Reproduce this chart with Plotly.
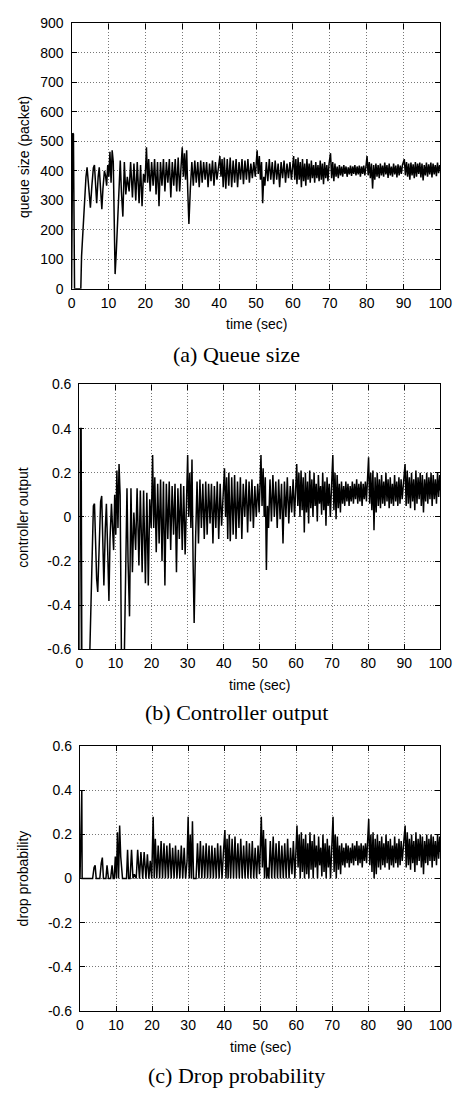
import plotly.graph_objects as go

# ---------------- data ----------------
time_sec = [
    0.0, 0.1, 0.3, 0.5, 0.6, 0.8, 1.6, 2.5, 2.7, 3.0, 3.5, 3.9,
    4.2, 4.5, 4.8, 5.1, 5.5, 5.9, 6.2, 6.5, 6.8, 7.2, 7.5, 7.9, 8.2, 8.5, 8.9, 9.2, 9.5, 9.8, 10.1, 10.4, 10.7, 11.0, 11.3,
    11.6, 11.8, 12.1, 12.5, 12.9, 13.2, 13.5, 13.9,
    14.3, 14.7, 15.1, 15.6, 16.0, 16.5, 16.9, 17.4, 17.8, 18.3, 18.7, 19.1, 19.5, 19.9,
    20.3, 20.6, 20.9, 21.3, 21.7, 22.1, 22.5, 22.9, 23.3, 23.7, 24.1, 24.5, 24.9, 25.3, 25.7, 26.1, 26.5, 26.9, 27.3, 27.7, 28.1, 28.5, 28.9, 29.3, 29.7,
    30.0, 30.3, 30.6, 30.9, 31.2, 31.5, 31.8, 32.2, 32.6, 33.0, 33.4, 33.8, 34.2, 34.6, 35.0, 35.4, 35.8, 36.2, 36.6, 37.0, 37.4, 37.8, 38.2, 38.6, 39.0, 39.4, 39.8,
    40.2, 40.5, 40.8, 41.1, 41.4, 41.8, 42.2, 42.6, 43.0, 43.4, 43.8, 44.2, 44.6, 45.0, 45.4, 45.8, 46.2, 46.6, 47.0, 47.4, 47.8, 48.2, 48.6, 49.0, 49.4, 49.8,
    50.3, 50.6, 50.9, 51.2, 51.5, 51.8, 52.1, 52.4, 52.8, 53.2, 53.6, 54.0, 54.4, 54.8, 55.2, 55.6, 56.0, 56.4, 56.8, 57.2, 57.6, 58.0, 58.4, 58.8, 59.2, 59.6,
    60.2, 60.5, 60.8, 61.1, 61.4, 61.7, 62.0, 62.3, 62.6, 62.9, 63.2, 63.5, 63.8, 64.1, 64.4, 64.7, 65.0, 65.3, 65.6, 65.9,
    66.2, 66.5, 66.8, 67.1, 67.4, 67.7, 68.0, 68.3, 68.6, 68.9, 69.2, 69.5, 69.8,
    70.2, 70.5, 70.8, 71.1, 71.4, 71.7, 72.0, 72.3, 72.6, 72.9, 73.2, 73.5, 73.8, 74.1, 74.4, 74.7, 75.0, 75.3, 75.6, 75.9,
    76.2, 76.5, 76.8, 77.1, 77.4, 77.7, 78.0, 78.3, 78.6, 78.9, 79.2, 79.5, 79.8,
    80.1, 80.4, 80.7, 81.0, 81.3, 81.6, 81.9, 82.2, 82.5, 82.8, 83.1, 83.4, 83.7, 84.0, 84.3, 84.6, 84.9, 85.2, 85.5, 85.8,
    86.1, 86.4, 86.7, 87.0, 87.3, 87.6, 87.9, 88.2, 88.5, 88.8, 89.1, 89.4, 89.7,
    90.2, 90.5, 90.8, 91.1, 91.4, 91.7, 92.0, 92.3, 92.6, 92.9, 93.2, 93.5, 93.8, 94.1, 94.4, 94.7, 95.0, 95.3, 95.6, 95.9,
    96.2, 96.5, 96.8, 97.1, 97.4, 97.7, 98.0, 98.3, 98.6, 98.9, 99.2, 99.5, 99.8, 100.0,
]

queue_size = [
    0, 515, 528, 525, 320, 0, 0, 0, 110, 190, 270, 380,
    412, 360, 300, 275, 350, 410, 420, 340, 290, 380, 412, 330, 270, 340, 400, 385, 350, 420, 380, 465, 360, 470, 430,
    200, 50, 120, 250, 380, 435, 330, 245,
    430, 320, 380, 330, 430, 310, 425, 300, 430, 290, 420, 280, 390, 360,
    480, 360, 440, 330, 430, 350, 440, 320, 430, 280, 430, 350, 440, 330, 430, 360, 440, 310, 430, 350, 440, 330, 445, 330, 420,
    480, 380, 460, 370, 470, 330, 220, 340, 430, 350, 435, 360, 430, 345, 435, 360, 430, 370, 430, 345, 425, 365, 435, 350, 430, 370, 420,
    450, 380, 440, 345, 445, 340, 440, 350, 445, 345, 435, 360, 440, 345, 430, 370, 440, 355, 435, 370, 440, 360, 425, 375, 430, 380,
    470, 390, 450, 370, 430, 290, 380, 350, 430, 365, 440, 370, 430, 355, 435, 370, 425, 345, 430, 375, 435, 360, 425, 375, 430, 370,
    450, 370, 440, 355, 445, 370, 430, 345, 440, 365, 425, 350, 440, 370, 425, 360, 435, 375, 420, 360,
    430, 375, 420, 365, 435, 370, 425, 355, 430, 375, 420, 365, 425,
    460, 375, 430, 365, 425, 380, 415, 375, 420, 385, 415, 380, 420, 390, 415, 380, 412, 388, 418, 383,
    415, 390, 420, 385, 415, 388, 418, 380, 415, 390, 418, 385, 415,
    450, 385, 430, 375, 425, 340, 420, 370, 425, 380, 420, 375, 425, 385, 418, 380, 428, 388, 420, 376,
    425, 385, 415, 380, 425, 388, 418, 378, 422, 385, 418, 390, 420,
    440, 385, 430, 380, 425, 370, 428, 385, 422, 375, 430, 380, 425, 390, 428, 378, 425, 368, 420, 385,
    428, 380, 422, 388, 428, 378, 425, 388, 420, 382, 428, 392, 420, 405,
]

controller_output = [
    -0.9, 0.1, 0.40, 0.40, -0.3, -1.2, -1.6, -1.2, -0.75, -0.55, -0.25, 0.05,
    0.06, -0.15, -0.28, -0.34, -0.1, 0.07, 0.095, -0.15, -0.31, -0.05, 0.06, -0.18, -0.38, -0.1, 0.06, -0.05, -0.15, 0.1, -0.08, 0.21, -0.05, 0.24, 0.1,
    -0.5, -0.9, -0.85, -0.6, -0.1, 0.13, -0.2, -0.45,
    0.13, -0.25, 0.02, -0.15, 0.13, -0.22, 0.12, -0.25, 0.12, -0.3, 0.11, -0.31, 0.08, -0.05,
    0.28, -0.05, 0.18, -0.16, 0.15, -0.12, 0.17, -0.2, 0.16, -0.31, 0.15, -0.1, 0.16, -0.15, 0.14, -0.08, 0.15, -0.25, 0.13, -0.1, 0.15, -0.15, 0.14, -0.17, 0.08,
    0.28, 0.0, 0.2, -0.05, 0.26, -0.2, -0.48, -0.1, 0.16, -0.12, 0.17, -0.05, 0.15, -0.1, 0.16, -0.08, 0.15, -0.03, 0.15, -0.12, 0.14, -0.05, 0.16, -0.1, 0.15, -0.04, 0.12,
    0.22, 0.0, 0.18, -0.1, 0.2, -0.11, 0.18, -0.08, 0.19, -0.1, 0.16, -0.05, 0.18, -0.1, 0.15, 0.0, 0.17, -0.07, 0.16, -0.02, 0.17, -0.05, 0.14, 0.0, 0.15, 0.02,
    0.28, 0.05, 0.22, 0.0, 0.18, -0.24, 0.05, -0.05, 0.17, -0.02, 0.19, 0.0, 0.16, -0.05, 0.17, -0.01, 0.15, -0.12, 0.16, 0.0, 0.18, -0.03, 0.14, 0.02, 0.17, 0.0,
    0.24, 0.05, 0.2, 0.0, 0.21, 0.03, 0.18, -0.07, 0.2, 0.02, 0.16, -0.03, 0.21, 0.04, 0.17, 0.0, 0.2, 0.05, 0.15, -0.02,
    0.19, 0.06, 0.14, 0.01, 0.2, 0.03, 0.16, -0.04, 0.18, 0.05, 0.15, 0.0, 0.14,
    0.28, 0.03, 0.2, -0.01, 0.19, 0.04, 0.15, 0.02, 0.16, 0.06, 0.14, 0.05, 0.16, 0.07, 0.15, 0.05, 0.14, 0.07, 0.16, 0.06,
    0.15, 0.08, 0.17, 0.06, 0.15, 0.07, 0.16, 0.05, 0.15, 0.08, 0.16, 0.07, 0.15,
    0.27, 0.06, 0.2, 0.03, 0.21, -0.06, 0.18, 0.02, 0.2, 0.05, 0.17, 0.04, 0.19, 0.06, 0.16, 0.05, 0.2, 0.07, 0.17, 0.04,
    0.18, 0.06, 0.15, 0.05, 0.19, 0.07, 0.16, 0.05, 0.18, 0.06, 0.17, 0.08, 0.16,
    0.24, 0.05, 0.21, 0.06, 0.18, 0.04, 0.2, 0.07, 0.17, 0.03, 0.21, 0.06, 0.18, 0.08, 0.2, 0.05, 0.19, 0.02, 0.17, 0.07,
    0.2, 0.06, 0.18, 0.08, 0.2, 0.05, 0.19, 0.08, 0.17, 0.06, 0.2, 0.09, 0.19, 0.12,
]

drop_probability = [
    0, 0.1, 0.40, 0.40, 0, 0, 0, 0, 0, 0, 0, 0.05,
    0.06, 0, 0, 0, 0, 0.07, 0.095, 0, 0, 0, 0.06, 0, 0, 0, 0.06, 0, 0, 0.1, 0, 0.21, 0, 0.24, 0.1,
    0, 0, 0, 0, 0, 0.13, 0, 0,
    0.13, 0, 0.02, 0, 0.13, 0, 0.12, 0, 0.12, 0, 0.11, 0, 0.08, 0,
    0.28, 0, 0.18, 0, 0.15, 0, 0.17, 0, 0.16, 0, 0.15, 0, 0.16, 0, 0.14, 0, 0.15, 0, 0.13, 0, 0.15, 0, 0.14, 0, 0.08,
    0.28, 0, 0.2, 0, 0.26, 0, 0, 0, 0.16, 0, 0.17, 0, 0.15, 0, 0.16, 0, 0.15, 0, 0.15, 0, 0.14, 0, 0.16, 0, 0.15, 0, 0.12,
    0.22, 0, 0.18, 0, 0.2, 0, 0.18, 0, 0.19, 0, 0.16, 0, 0.18, 0, 0.15, 0, 0.17, 0, 0.16, 0, 0.17, 0, 0.14, 0, 0.15, 0.02,
    0.28, 0.05, 0.22, 0, 0.18, 0, 0.05, 0, 0.17, 0, 0.19, 0, 0.16, 0, 0.17, 0, 0.15, 0, 0.16, 0, 0.18, 0, 0.14, 0.02, 0.17, 0,
    0.24, 0.05, 0.2, 0, 0.21, 0.03, 0.18, 0, 0.2, 0.02, 0.16, 0, 0.21, 0.04, 0.17, 0, 0.2, 0.05, 0.15, 0,
    0.19, 0.06, 0.14, 0.01, 0.2, 0.03, 0.16, 0, 0.18, 0.05, 0.15, 0, 0.14,
    0.28, 0.03, 0.2, 0, 0.19, 0.04, 0.15, 0.02, 0.16, 0.06, 0.14, 0.05, 0.16, 0.07, 0.15, 0.05, 0.14, 0.07, 0.16, 0.06,
    0.15, 0.08, 0.17, 0.06, 0.15, 0.07, 0.16, 0.05, 0.15, 0.08, 0.16, 0.07, 0.15,
    0.27, 0.06, 0.2, 0.03, 0.21, 0, 0.18, 0.02, 0.2, 0.05, 0.17, 0.04, 0.19, 0.06, 0.16, 0.05, 0.2, 0.07, 0.17, 0.04,
    0.18, 0.06, 0.15, 0.05, 0.19, 0.07, 0.16, 0.05, 0.18, 0.06, 0.17, 0.08, 0.16,
    0.24, 0.05, 0.21, 0.06, 0.18, 0.04, 0.2, 0.07, 0.17, 0.03, 0.21, 0.06, 0.18, 0.08, 0.2, 0.05, 0.19, 0.02, 0.17, 0.07,
    0.2, 0.06, 0.18, 0.08, 0.2, 0.05, 0.19, 0.08, 0.17, 0.06, 0.2, 0.09, 0.19, 0.12,
]

x_ticks = [0, 10, 20, 30, 40, 50, 60, 70, 80, 90, 100]
queue_ticks = [0, 100, 200, 300, 400, 500, 600, 700, 800, 900]
prob_tick_vals = [-0.6, -0.4, -0.2, 0, 0.2, 0.4, 0.6]
prob_tick_text = ["-0.6", "-0.4", "-0.2", "0", "0.2", "0.4", "0.6"]

captions = ["(a) Queue size", "(b) Controller output", "(c) Drop probability"]
y_titles = ["queue size (packet)", "controller output", "drop probability"]
x_title = "time (sec)"

# ---------------- figure ----------------
W, H = 465, 1095
SANS = "Liberation Sans, Arial, sans-serif"
SERIF = "Liberation Serif, Times New Roman, serif"

def px_x(p):
    return p / W

def px_y(p):
    return 1 - p / H

fig = go.Figure()
line = dict(color="black", width=1.5)
fig.add_trace(go.Scatter(x=time_sec, y=queue_size, mode="lines", line=line, xaxis="x", yaxis="y"))
fig.add_trace(go.Scatter(x=time_sec, y=controller_output, mode="lines", line=line, xaxis="x2", yaxis="y2"))
fig.add_trace(go.Scatter(x=time_sec, y=drop_probability, mode="lines", line=line, xaxis="x3", yaxis="y3"))

panels = [
    # left, right, top, bottom (pixels)
    (70, 452, 15.7, 285),
    (78, 452, 382, 651),
    (78.7, 452, 749, 1018),
]

axis_common = dict(
    showline=True, linecolor="black", linewidth=1.3, mirror="ticks",
    ticks="inside", ticklen=5, tickcolor="black", tickwidth=1,
    showgrid=True, gridcolor="#777777", griddash="1px,2px", gridwidth=1,
    zeroline=False,
    tickfont=dict(family=SANS, size=14, color="black"),
)

layout = dict(
    width=W, height=H, margin=dict(l=0, r=0, t=0, b=0),
    paper_bgcolor="white", plot_bgcolor="white", showlegend=False,
)
for i, (l, r, t, b) in enumerate(panels):
    sx = "" if i == 0 else str(i + 1)
    layout["xaxis" + sx] = dict(
        axis_common, domain=[px_x(l), px_x(r)], range=[0, 100],
        tickvals=x_ticks, anchor="y" + sx, ticklabelstandoff=1,
    )
    if i == 0:
        ycfg = dict(range=[0, 900], tickvals=queue_ticks)
    else:
        ycfg = dict(range=[-0.6, 0.6], tickvals=prob_tick_vals, ticktext=prob_tick_text)
    layout["yaxis" + sx] = dict(
        axis_common, domain=[px_y(b), px_y(t)], anchor="x" + sx,
        ticklabelstandoff=4, **ycfg,
    )
fig.update_layout(**layout)

annotations = []
xtitle_y = [321, 687, 1054]
caption_y = [352, 715, 1083]
ytitle_y = [151, 517, 883]
for i, (l, r, t, b) in enumerate(panels):
    annotations.append(dict(
        text=x_title, x=px_x((l + r) / 2), y=px_y(xtitle_y[i]), xref="paper", yref="paper",
        xanchor="center", yanchor="middle", showarrow=False,
        font=dict(family=SANS, size=14, color="black"),
    ))
    annotations.append(dict(
        text=captions[i], x=px_x(241), y=px_y(caption_y[i]), xref="paper", yref="paper",
        xanchor="center", yanchor="middle", showarrow=False,
        font=dict(family=SERIF, size=22, color="black"),
    ))
    annotations.append(dict(
        text=y_titles[i], x=px_x(20), y=px_y(ytitle_y[i]), xref="paper", yref="paper",
        xanchor="center", yanchor="middle", showarrow=False, textangle=-90,
        font=dict(family=SANS, size=14, color="black"),
    ))
fig.update_layout(annotations=annotations)

fig.write_html(
    "out.html",
    config={"displayModeBar": False},
    post_script="document.body.style.margin='0';document.body.style.overflow='hidden';",
)
